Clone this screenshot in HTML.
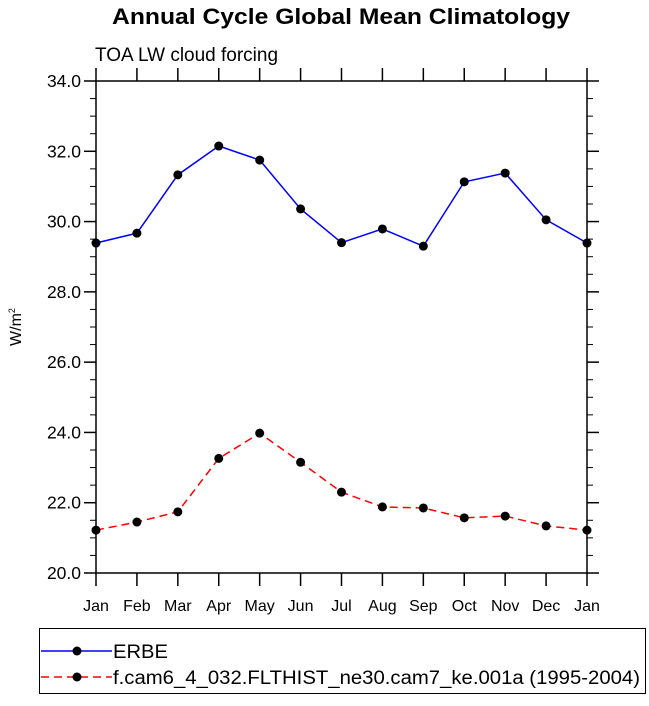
<!DOCTYPE html>
<html><head><meta charset="utf-8"><style>
body{margin:0;background:#fff;width:649px;height:701px;overflow:hidden;font-family:"Liberation Sans",Arial,sans-serif}
</style></head><body>
<svg id="chart" width="649" height="701" viewBox="0 0 649 701" xmlns="http://www.w3.org/2000/svg" font-family="Liberation Sans, Arial, sans-serif">
<text x="341" y="24" text-anchor="middle" font-size="22" font-weight="bold" textLength="458" lengthAdjust="spacingAndGlyphs">Annual Cycle Global Mean Climatology</text>
<text x="95" y="61" font-size="19">TOA LW cloud forcing</text>
<text transform="translate(21,327) rotate(-90)" text-anchor="middle" font-size="16">W/m<tspan font-size="9" dy="-6">2</tspan></text>
<g id="axes"></g>
<g id="series"></g>
<g>
<rect x="39.5" y="628.5" width="606" height="65" fill="none" stroke="#000" stroke-width="1"/>
<g>
<line x1="41" y1="651" x2="112" y2="651" stroke="#0000ff" stroke-width="1.5"/>
<circle cx="77" cy="651" r="4.5"/>
<text x="113" y="658" font-size="19" textLength="55" lengthAdjust="spacingAndGlyphs">ERBE</text>
</g>
<g>
<line x1="41" y1="677" x2="112" y2="677" stroke="#ff0000" stroke-width="1.5" stroke-dasharray="8,5"/>
<circle cx="77" cy="677" r="4.5"/>
<text x="113" y="684" font-size="19" textLength="527" lengthAdjust="spacingAndGlyphs">f.cam6_4_032.FLTHIST_ne30.cam7_ke.001a (1995-2004)</text>
</g>
</g>
</svg>
<script>
const months = ["Jan","Feb","Mar","Apr","May","Jun","Jul","Aug","Sep","Oct","Nov","Dec","Jan"];
const erbe = [29.39,29.67,31.33,32.15,31.75,30.36,29.4,29.79,29.3,31.13,31.38,30.05,29.39];
const model = [21.22,21.45,21.74,23.26,23.98,23.15,22.3,21.88,21.85,21.57,21.62,21.34,21.22];
const yTicks = ["20.0","22.0","24.0","26.0","28.0","30.0","32.0","34.0"];
const yMin = 20, yMax = 34;
const L=96,R=587,T=81,B=573;
const NS="http://www.w3.org/2000/svg";
const xs = i => L + (R-L)*i/(months.length-1);
const ys = v => B - (B-T)*(v-yMin)/(yMax-yMin);
function mk(tag, attrs, parent){const e=document.createElementNS(NS,tag);for(const k in attrs)e.setAttribute(k,attrs[k]);parent.appendChild(e);return e;}
const ax=document.getElementById('axes');
const frame=mk('rect',{x:L,y:T,width:R-L,height:B-T,fill:'none',stroke:'#000','stroke-width':1.5},ax);


months.forEach((m,i)=>{
  const x=xs(i);
  mk('line',{x1:x,y1:B,x2:x,y2:B+13,stroke:'#000','stroke-width':1.5},ax);
  mk('line',{x1:x,y1:T,x2:x,y2:T-13,stroke:'#000','stroke-width':1.5},ax);
  const t=mk('text',{x:x,y:B+38,'text-anchor':'middle','font-size':16},ax);
  t.textContent=m;
  
  
});
yTicks.forEach(lab=>{
  const v=parseFloat(lab), y=ys(v);
  mk('line',{x1:L-12,y1:y,x2:L,y2:y,stroke:'#000','stroke-width':1.5},ax);
  mk('line',{x1:R,y1:y,x2:R+12,y2:y,stroke:'#000','stroke-width':1.5},ax);
  const t=mk('text',{x:L-15,y:y+6,'text-anchor':'end','font-size':17.5},ax);
  t.textContent=lab;
  
  
});
for(let v=yMin+0.5; v<yMax; v+=0.5){
  if(Math.abs(v-Math.round(v/2)*2)<1e-6) continue;
  const y=ys(v);
  mk('line',{x1:L-6,y1:y,x2:L,y2:y,stroke:'#000','stroke-width':1},ax);
  mk('line',{x1:R,y1:y,x2:R+6,y2:y,stroke:'#000','stroke-width':1},ax);
}
const sg=document.getElementById('series');
function drawSeries(vals,color,dash,name){
  const g=mk('g',{},sg);
  
  
  const pts=vals.map((v,i)=>xs(i)+','+ys(v)).join(' ');
  const pl=mk('polyline',{points:pts,fill:'none',stroke:color,'stroke-width':1.5},g);
  if(dash) pl.setAttribute('stroke-dasharray',dash);
  vals.forEach((v,i)=>{
    const c=mk('circle',{cx:xs(i),cy:ys(v),r:4.5,fill:'#000'},g);
    
    
  });
}
drawSeries(erbe,'#0000ff',null,'erbe-series');
drawSeries(model,'#ff0000','8,5','model-series');
</script>
</body></html>
